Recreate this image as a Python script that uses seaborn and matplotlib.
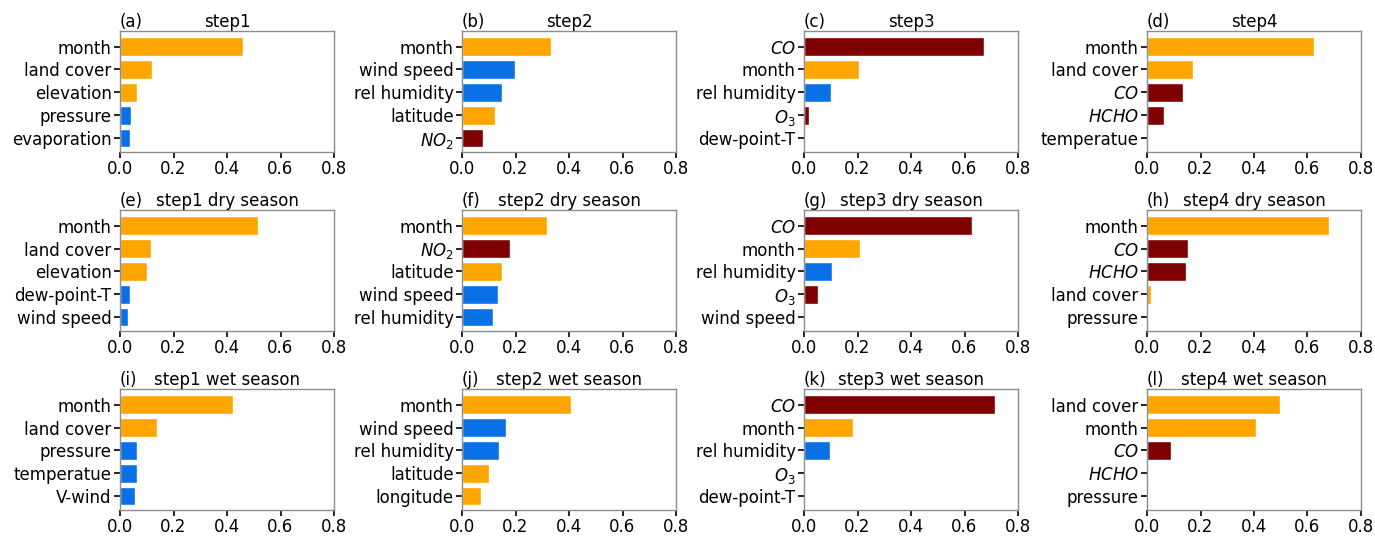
import matplotlib
matplotlib.use("Agg")
import matplotlib.pyplot as plt
import seaborn as sns
import pandas as pd

sns.set_style("white")
plt.rcParams['font.family'] = ['DejaVu Sans']
plt.rcParams['mathtext.fontset'] = 'dejavusans'
plt.rcParams['text.color'] = 'black'
plt.rcParams['xtick.color'] = 'black'
plt.rcParams['ytick.color'] = 'black'
plt.rcParams['axes.labelcolor'] = 'black'

ORANGE = "#ffa500"
BLUE = "#0a70e6"
RED = "#7f0000"

# feature -> group colour
feature_colors = {
    "month": ORANGE, "land cover": ORANGE, "elevation": ORANGE,
    "latitude": ORANGE, "longitude": ORANGE,
    "pressure": BLUE, "evaporation": BLUE, "wind speed": BLUE,
    "rel humidity": BLUE, "dew-point-T": BLUE, "temperatue": BLUE, "V-wind": BLUE,
    "$CO$": RED, "$NO_2$": RED, "$O_3$": RED, "$HCHO$": RED,
}

letters = ["(a)", "(b)", "(c)", "(d)", "(e)", "(f)", "(g)", "(h)", "(i)", "(j)", "(k)", "(l)"]
titles = ["step1", "step2", "step3", "step4",
          "step1 dry season", "step2 dry season", "step3 dry season", "step4 dry season",
          "step1 wet season", "step2 wet season", "step3 wet season", "step4 wet season"]

feat_a = ["month", "land cover", "elevation", "pressure", "evaporation"]
val_a = [0.459, 0.118, 0.062, 0.042, 0.037]
feat_b = ["month", "wind speed", "rel humidity", "latitude", "$NO_2$"]
val_b = [0.332, 0.197, 0.149, 0.123, 0.078]
feat_c = ["$CO$", "month", "rel humidity", "$O_3$", "dew-point-T"]
val_c = [0.673, 0.204, 0.101, 0.019, 0.0]
feat_d = ["month", "land cover", "$CO$", "$HCHO$", "temperatue"]
val_d = [0.625, 0.172, 0.136, 0.062, 0.0]
feat_e = ["month", "land cover", "elevation", "dew-point-T", "wind speed"]
val_e = [0.516, 0.116, 0.100, 0.037, 0.031]
feat_f = ["month", "$NO_2$", "latitude", "wind speed", "rel humidity"]
val_f = [0.316, 0.178, 0.149, 0.134, 0.115]
feat_g = ["$CO$", "month", "rel humidity", "$O_3$", "wind speed"]
val_g = [0.629, 0.210, 0.103, 0.054, 0.0]
feat_h = ["month", "$CO$", "$HCHO$", "land cover", "pressure"]
val_h = [0.681, 0.154, 0.144, 0.014, 0.0]
feat_i = ["month", "land cover", "pressure", "temperatue", "V-wind"]
val_i = [0.421, 0.137, 0.064, 0.062, 0.056]
feat_j = ["month", "wind speed", "rel humidity", "latitude", "longitude"]
val_j = [0.406, 0.166, 0.139, 0.100, 0.071]
feat_k = ["$CO$", "month", "rel humidity", "$O_3$", "dew-point-T"]
val_k = [0.713, 0.183, 0.098, 0.0, 0.0]
feat_l = ["land cover", "month", "$CO$", "$HCHO$", "pressure"]
val_l = [0.498, 0.407, 0.091, 0.0, 0.0]

panels = [(feat_a, val_a), (feat_b, val_b), (feat_c, val_c), (feat_d, val_d),
          (feat_e, val_e), (feat_f, val_f), (feat_g, val_g), (feat_h, val_h),
          (feat_i, val_i), (feat_j, val_j), (feat_k, val_k), (feat_l, val_l)]
xticks = [0.0, 0.2, 0.4, 0.6, 0.8]

W, H = 1375, 538
fig = plt.figure(figsize=(W / 100, H / 100), dpi=100)

lefts = [120, 462, 804, 1147]
tops = [31, 210, 389]
aw, ah = 214, 121

for idx, (feats, vals) in enumerate(panels):
    r, c = divmod(idx, 4)
    ax = fig.add_axes([lefts[c] / W, 1 - (tops[r] + ah) / H, aw / W, ah / H])
    df = pd.DataFrame({"feature": feats, "importance": vals})
    pal = {f: feature_colors[f] for f in feats}
    sns.barplot(data=df, x="importance", y="feature", hue="feature", palette=pal,
                order=feats, hue_order=feats, dodge=False, legend=False,
                orient="h", width=0.8, saturation=1, ax=ax)
    ax.set_xlim(0, 0.8)
    ax.set_ylim(4.6, -0.68)
    ax.set_xticks(xticks)
    ax.set_xticklabels([f"{t:.1f}" for t in xticks])
    ax.set_xlabel("")
    ax.set_ylabel("")
    ax.tick_params(axis="both", labelsize=12, length=4.5, width=1.2, color="black",
                   labelcolor="black", left=True, bottom=True, pad=1.5)
    for s in ax.spines.values():
        s.set_color("#8c8c8c")
        s.set_linewidth(1.0)
    ax.set_title(letters[idx], loc="left", fontsize=12, pad=3, color="black")
    ax.set_title(titles[idx], loc="center", fontsize=12, pad=3, color="black")

fig.savefig("out.png", dpi=100)
